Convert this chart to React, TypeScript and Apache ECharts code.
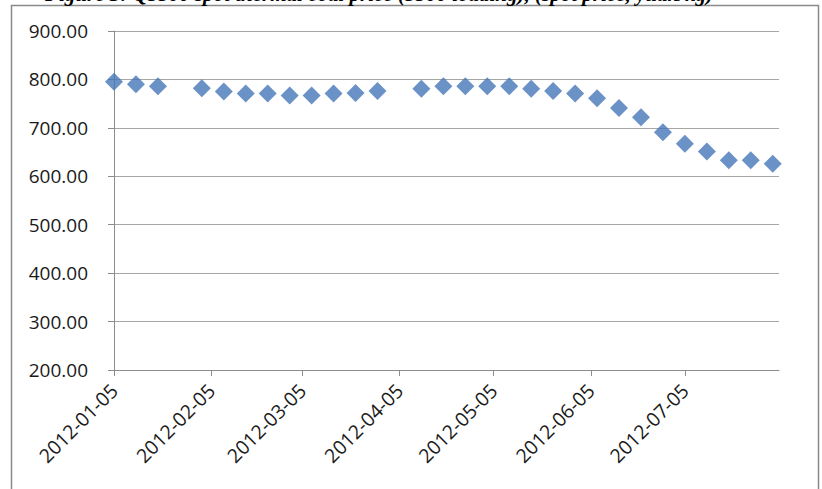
import React, { useEffect, useRef } from "react";
import * as echarts from "echarts";

const dates = [
  "2012-01-05", "2012-01-12", "2012-01-19", "2012-02-02", "2012-02-09", "2012-02-16",
  "2012-02-23", "2012-03-01", "2012-03-08", "2012-03-15", "2012-03-22", "2012-03-29",
  "2012-04-12", "2012-04-19", "2012-04-26", "2012-05-03", "2012-05-10", "2012-05-17",
  "2012-05-24", "2012-05-31", "2012-06-07", "2012-06-14", "2012-06-21", "2012-06-28",
  "2012-07-05", "2012-07-12", "2012-07-19", "2012-07-26", "2012-08-02",
];
const prices = [
  795, 790, 786, 782, 775, 771,
  771, 767, 767, 771, 772, 776,
  781, 786, 786, 786, 786, 781,
  776, 771, 761, 741, 722, 691,
  667, 651, 633, 633, 626,
];
const tickDates = [
  "2012-01-05", "2012-02-05", "2012-03-05", "2012-04-05",
  "2012-05-05", "2012-06-05", "2012-07-05",
];
const axisStart = "2012-01-05";
const axisEnd = "2012-08-04";
const yMin = 200;
const yMax = 900;
const yStep = 100;
const titleText = "Figure 3: Q5500 spot thermal coal price (5500 loading), (spot price, yuan/kg)";

function ts(s: string): number {
  const [y, m, d] = s.split("-").map(Number);
  return new Date(y, m - 1, d).getTime();
}
function pad(n: number): string {
  return n < 10 ? "0" + n : String(n);
}
function fmt(t: number): string {
  const d = new Date(t);
  return `${d.getFullYear()}-${pad(d.getMonth() + 1)}-${pad(d.getDate())}`;
}

export default function App() {
  const ref = useRef<HTMLDivElement>(null);
  useEffect(() => {
    if (!ref.current) return;
    const chart = echarts.init(ref.current, null, { renderer: "svg" });
    const tickTs = tickDates.map(ts);
    const font = "'Open Sans', 'Noto Sans', sans-serif";
    chart.setOption({
      animation: false,
      backgroundColor: "#ffffff",
      grid: { left: 114, right: 43, top: 31, bottom: 119 },
      xAxis: {
        type: "value",
        min: ts(axisStart),
        max: ts(axisEnd),
        splitLine: { show: false },
        axisLine: { show: true, lineStyle: { color: "#8c8c8c", width: 1 } },
        axisTick: { show: true, length: 6, customValues: tickTs, lineStyle: { color: "#8c8c8c" } },
        axisLabel: {
          customValues: tickTs,
          formatter: (v: number) => fmt(v),
          rotate: 45,
          margin: 17,
          fontSize: 19.5,
          color: "#1a1a1a",
          fontFamily: font,
        },
      },
      yAxis: {
        type: "value",
        min: yMin,
        max: yMax,
        interval: yStep,
        axisLine: { show: true, lineStyle: { color: "#8c8c8c", width: 1 } },
        axisTick: { show: true, length: 6, lineStyle: { color: "#8c8c8c" } },
        splitLine: { show: true, lineStyle: { color: "#a6a6a6", width: 1 } },
        axisLabel: {
          formatter: (v: number) => v.toFixed(2),
          margin: 26,
          fontSize: 19,
          color: "#1a1a1a",
          fontFamily: font,
        },
      },
      series: [
        {
          type: "scatter",
          symbol: "diamond",
          symbolSize: 18,
          itemStyle: { color: "#4677b8" },
          data: dates.map((d, i) => [ts(d), prices[i]]),
        },
      ],
      graphic: [
        {
          type: "rect",
          shape: { x: 11.5, y: 5.5, width: 807, height: 520 },
          style: { fill: "none", stroke: "#8a8a8a", lineWidth: 1.5 },
          silent: true,
        },
        {
          type: "text",
          x: 45,
          y: 4,
          style: {
            text: titleText,
            font: "italic bold 21px 'Liberation Serif', serif",
            fill: "#000",
            verticalAlign: "bottom",
          },
          silent: true,
        },
      ],
    });
    return () => chart.dispose();
  }, []);
  return (
    <div
      ref={ref}
      style={{ position: "absolute", left: 0, top: 0, width: 822, height: 489 }}
    />
  );
}
